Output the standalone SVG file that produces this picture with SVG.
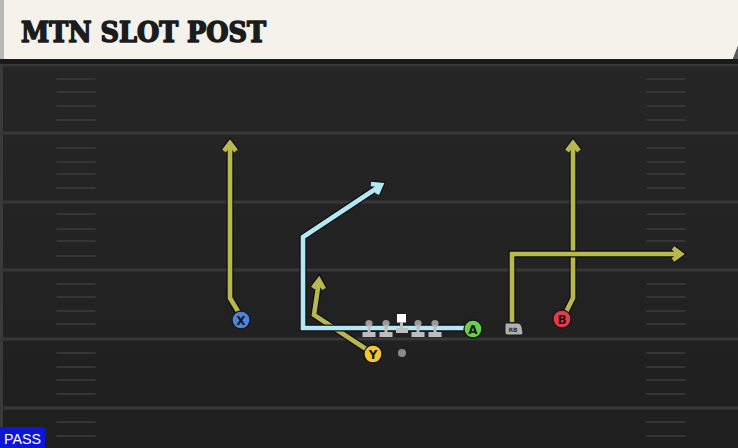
<svg xmlns="http://www.w3.org/2000/svg" width="738" height="448" viewBox="0 0 738 448">
<defs>
<linearGradient id="fieldGrad" x1="0" y1="0" x2="0" y2="1">
<stop offset="0" stop-color="#272727"/>
<stop offset="1" stop-color="#1f1f1f"/>
</linearGradient>
</defs>
<style>
.yard{stroke:#383838;stroke-width:3}
.hash{stroke:#353535;stroke-width:2;stroke-linecap:round}
.out{fill:none;stroke:#0e0e16;stroke-width:7;stroke-linejoin:miter;stroke-linecap:butt}
.yel{fill:none;stroke:#b9b84c;stroke-width:4.6;stroke-linejoin:miter;stroke-linecap:butt}
.blu{fill:none;stroke:#b2e8f4;stroke-width:4.6;stroke-linejoin:miter;stroke-linecap:butt}
.pl{stroke:#161616;stroke-width:1.3}
.lbl{font-family:"DejaVu Sans",sans-serif;font-weight:bold;font-size:12px;fill:#151515;text-anchor:middle}
.olc{fill:#9a9a9a}
.olb{fill:#bdbdbd}
</style>
<rect x="0" y="0" width="738" height="448" fill="url(#fieldGrad)"/>
<rect x="0" y="0" width="3" height="448" fill="#3a3a3a"/>
<g id="field">
<line class="yard" x1="0" y1="65" x2="738" y2="65"/>
<line class="yard" x1="0" y1="133" x2="738" y2="133"/>
<line class="yard" x1="0" y1="202" x2="738" y2="202"/>
<line class="yard" x1="0" y1="270" x2="738" y2="270"/>
<line class="yard" x1="0" y1="339" x2="738" y2="339"/>
<line class="yard" x1="0" y1="408" x2="738" y2="408"/>
<g id="hashes-left">
<line class="hash" x1="57" y1="79" x2="95" y2="79"/><line class="hash" x1="57" y1="92" x2="95" y2="92"/><line class="hash" x1="57" y1="106" x2="95" y2="106"/><line class="hash" x1="57" y1="120" x2="95" y2="120"/>
<line class="hash" x1="57" y1="148" x2="95" y2="148"/><line class="hash" x1="57" y1="162" x2="95" y2="162"/><line class="hash" x1="57" y1="174" x2="95" y2="174"/><line class="hash" x1="57" y1="188" x2="95" y2="188"/>
<line class="hash" x1="57" y1="214" x2="95" y2="214"/><line class="hash" x1="57" y1="229" x2="95" y2="229"/><line class="hash" x1="57" y1="241" x2="95" y2="241"/><line class="hash" x1="57" y1="256" x2="95" y2="256"/>
<line class="hash" x1="57" y1="284" x2="95" y2="284"/><line class="hash" x1="57" y1="297" x2="95" y2="297"/><line class="hash" x1="57" y1="311" x2="95" y2="311"/><line class="hash" x1="57" y1="324" x2="95" y2="324"/>
<line class="hash" x1="57" y1="353" x2="95" y2="353"/><line class="hash" x1="57" y1="367" x2="95" y2="367"/><line class="hash" x1="57" y1="380" x2="95" y2="380"/><line class="hash" x1="57" y1="394" x2="95" y2="394"/>
<line class="hash" x1="57" y1="422" x2="95" y2="422"/><line class="hash" x1="57" y1="436" x2="95" y2="436"/>
</g>
<g id="hashes-right">
<line class="hash" x1="647" y1="79" x2="685" y2="79"/><line class="hash" x1="647" y1="92" x2="685" y2="92"/><line class="hash" x1="647" y1="106" x2="685" y2="106"/><line class="hash" x1="647" y1="120" x2="685" y2="120"/>
<line class="hash" x1="647" y1="148" x2="685" y2="148"/><line class="hash" x1="647" y1="162" x2="685" y2="162"/><line class="hash" x1="647" y1="174" x2="685" y2="174"/><line class="hash" x1="647" y1="188" x2="685" y2="188"/>
<line class="hash" x1="647" y1="214" x2="685" y2="214"/><line class="hash" x1="647" y1="229" x2="685" y2="229"/><line class="hash" x1="647" y1="241" x2="685" y2="241"/><line class="hash" x1="647" y1="256" x2="685" y2="256"/>
<line class="hash" x1="647" y1="284" x2="685" y2="284"/><line class="hash" x1="647" y1="297" x2="685" y2="297"/><line class="hash" x1="647" y1="311" x2="685" y2="311"/><line class="hash" x1="647" y1="324" x2="685" y2="324"/>
<line class="hash" x1="647" y1="353" x2="685" y2="353"/><line class="hash" x1="647" y1="367" x2="685" y2="367"/><line class="hash" x1="647" y1="380" x2="685" y2="380"/><line class="hash" x1="647" y1="394" x2="685" y2="394"/>
<line class="hash" x1="647" y1="422" x2="685" y2="422"/><line class="hash" x1="647" y1="436" x2="685" y2="436"/>
</g>
</g>
<g id="header">
<rect x="0" y="59" width="738" height="5" fill="#1a1a1a"/>
<polygon points="0,0 738,0 738,46 733,59 0,59" fill="#f5f2eb"/>
<polygon points="738,46 733,59 738,59" fill="#5a5a5a"/>
<rect x="0" y="0" width="4" height="59" fill="#b9b9b9"/>
<text x="21" y="42" font-family="'DejaVu Serif', 'Liberation Serif', serif" font-weight="900" font-size="27" fill="#1c1c1c" stroke="#1c1c1c" stroke-width="1.6" stroke-linejoin="round" textLength="245" lengthAdjust="spacingAndGlyphs">MTN SLOT POST</text>
</g>
<g id="connectors">
<path class="out" d="M239,313 L230,298 L230,144 M224,151 L230,143 L236,151"/>
<path class="yel" d="M239,313 L230,298 L230,144 M224,151 L230,143 L236,151"/>
<path class="out" d="M566,312 L573,298 L573,143 M567,151 L573,143 L579,151"/>
<path class="yel" d="M566,312 L573,298 L573,143 M567,151 L573,143 L579,151"/>
<path class="out" d="M512,322 L512,254 L680,254 M673,248 L681,254 L673,260"/>
<path class="yel" d="M512,322 L512,254 L680,254 M673,248 L681,254 L673,260"/>
<path class="out" d="M366,349 L314,315 L319,281 M313,288 L319,280 L324,289"/>
<path class="yel" d="M366,349 L314,315 L319,281 M313,288 L319,280 L324,289"/>
<path class="out" d="M465,328 L303,328 L303,237 L380,186 M371,184 L381,185 L377,194"/>
<path class="blu" d="M465,328 L303,328 L303,237 L380,186 M371,184 L381,185 L377,194"/>
</g>
<g id="line">
<g id="LT"><circle class="olc" cx="369" cy="323.5" r="3.6"/><rect class="olb" x="367.5" y="325" width="3" height="8"/><rect class="olb" x="362.5" y="332" width="13" height="5"/></g>
<g id="LG"><circle class="olc" cx="386" cy="323.5" r="3.6"/><rect class="olb" x="384.5" y="325" width="3" height="8"/><rect class="olb" x="379.5" y="332" width="13" height="5"/></g>
<g id="C"><rect x="397" y="314" width="9" height="8.5" fill="#ffffff"/><rect class="olb" x="400" y="322" width="3" height="7"/><rect class="olb" x="396" y="328" width="12" height="5"/></g>
<g id="RG"><circle class="olc" cx="418" cy="323.5" r="3.6"/><rect class="olb" x="416.5" y="325" width="3" height="8"/><rect class="olb" x="411.5" y="332" width="13" height="5"/></g>
<g id="RT"><circle class="olc" cx="435" cy="323.5" r="3.6"/><rect class="olb" x="433.5" y="325" width="3" height="8"/><rect class="olb" x="428.5" y="332" width="13" height="5"/></g>
<g id="QB"><circle cx="402" cy="353" r="4" fill="#8a8a8a"/></g>
</g>
<g id="X"><circle class="pl" cx="241" cy="320" r="9" fill="#4b85e2"/><text class="lbl" x="241" y="324.5">X</text></g>
<g id="Y"><circle class="pl" cx="373" cy="354" r="9" fill="#f5c72a"/><text class="lbl" x="373" y="358.5">Y</text></g>
<g id="A"><circle class="pl" cx="473" cy="329" r="9" fill="#69cf46"/><text class="lbl" x="473" y="333.5">A</text></g>
<g id="B"><circle class="pl" cx="562" cy="319" r="9" fill="#e8394b"/><text class="lbl" x="562" y="323.5">B</text></g>
<g id="RB"><path d="M505,324 Q505,323 507,323 L518,323 Q521,323 522,327 L523,333 Q523,335 521,335 L507,335 Q505,335 505,333 Z" fill="#b0b0b0" stroke="#1a1a1a" stroke-width="1"/><text x="513" y="332" font-family="DejaVu Sans" font-size="6" font-weight="bold" fill="#333" text-anchor="middle">RB</text></g>
<g id="pass"><rect x="0" y="427" width="45" height="21" fill="#0c16d6"/><text x="4" y="444" font-family="Liberation Sans" font-size="15" fill="#ffffff" textLength="37" lengthAdjust="spacingAndGlyphs">PASS</text></g>
</svg>
